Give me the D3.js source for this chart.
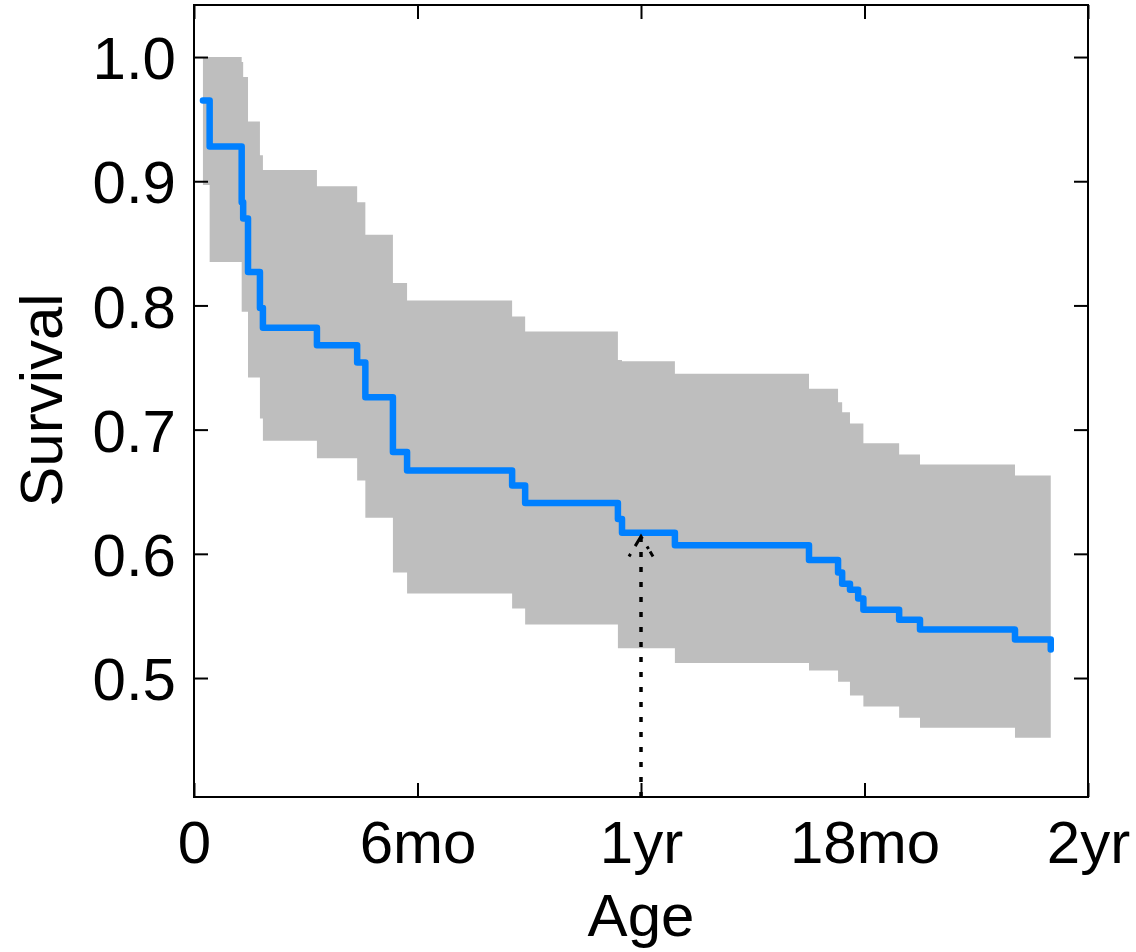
<!DOCTYPE html>
<html>
<head>
<meta charset="utf-8">
<script src="https://cdn.jsdelivr.net/npm/d3@7"></script>
<style>
  html, body { margin: 0; padding: 0; background: #fff; }
  svg { display: block; }
  text { font-family: "Liberation Sans", Arial, sans-serif; fill: #000; }
</style>
</head>
<body>
<svg id="chart" width="1136" height="952"></svg>
<script>
// ---- data (time in months) ----
const times = [0.24, 0.42, 1.28, 1.32, 1.45, 1.77, 1.85, 3.30, 4.38, 4.60, 5.34, 5.72, 8.54, 8.89, 11.38, 11.49, 12.91, 16.51, 17.29, 17.40, 17.61, 17.83, 17.97, 18.93, 19.49, 22.04];
const survival = [0.965, 0.928, 0.883, 0.870, 0.827, 0.798, 0.782, 0.768, 0.754, 0.726, 0.682, 0.667, 0.655, 0.641, 0.628, 0.617, 0.607, 0.595, 0.585, 0.576, 0.571, 0.564, 0.555, 0.547, 0.539, 0.531];
const upper = [1.000, 1.000, 0.996, 0.984, 0.948, 0.921, 0.909, 0.896, 0.883, 0.857, 0.818, 0.804, 0.791, 0.779, 0.756, 0.755, 0.745, 0.733, 0.722, 0.714, 0.705, 0.705, 0.689, 0.680, 0.672, 0.663];
const lower = [0.897, 0.835, 0.795, 0.795, 0.742, 0.709, 0.691, 0.677, 0.659, 0.629, 0.585, 0.568, 0.556, 0.543, 0.524, 0.524, 0.512, 0.506, 0.497, 0.497, 0.486, 0.486, 0.477, 0.468, 0.460, 0.452];
const endTime = 23.0;
const endSurvival = 0.523;
const arrowTime = 12;
const arrowSurvival = 0.614;

const xTicks = [0, 6, 12, 18, 24];
const xTickLabels = ["0", "6mo", "1yr", "18mo", "2yr"];
const yTicks = [0.5, 0.6, 0.7, 0.8, 0.9, 1.0];
const yTickLabels = ["0.5", "0.6", "0.7", "0.8", "0.9", "1.0"];
const xTitle = "Age";
const yTitle = "Survival";

// ---- layout ----
const L = 194, R = 1088, T = 5, B = 797;
const svg = d3.select("#chart");
const x = d3.scaleLinear().domain([0, 24]).range([L, R]);
const y = d3.scaleLinear().domain([0.4042, 1.0419]).range([B, T]);

const rows = times.map((t, i) => ({ t, s: survival[i], u: upper[i], l: lower[i] }));
const bandRows = rows.concat([{ t: endTime, u: upper[upper.length - 1], l: lower[lower.length - 1] }]);
const lineRows = rows.concat([{ t: endTime, s: survival[survival.length - 1] }, { t: endTime, s: endSurvival }]);

// confidence band
svg.append("path")
  .datum(bandRows)
  .attr("fill", "#bebebe")
  .attr("d", d3.area().curve(d3.curveStepAfter)
    .x(d => x(d.t)).y0(d => y(d.l)).y1(d => y(d.u)));

// survival line
svg.append("path")
  .datum(lineRows)
  .attr("fill", "none")
  .attr("stroke", "#0080ff")
  .attr("stroke-width", 6.5)
  .attr("stroke-linejoin", "round")
  .attr("stroke-linecap", "round")
  .attr("d", d3.line().curve(d3.curveStepAfter).x(d => x(d.t)).y(d => y(d.s)));

// dotted arrow
const ax = x(arrowTime), ay = y(arrowSurvival);
const arrow = svg.append("g")
  .attr("stroke", "#000").attr("stroke-width", 3.5)
  .attr("stroke-dasharray", "5,10").attr("fill", "none");
arrow.append("line").attr("x1", ax).attr("y1", B).attr("x2", ax).attr("y2", ay);
arrow.append("path")
  .attr("stroke-width", 3)
  .attr("stroke-dasharray", "3,9,14,9,3")
  .attr("d", `M${ax - 12},${ay + 20}L${ax},${ay}L${ax + 12},${ay + 20}`);

// frame
svg.append("rect").attr("x", L).attr("y", T).attr("width", R - L).attr("height", B - T)
  .attr("fill", "none").attr("stroke", "#000").attr("stroke-width", 2);

// axes with inward ticks
const tickLen = 14;
const gx = svg.append("g").attr("transform", `translate(0,${B})`)
  .call(d3.axisBottom(x).tickValues(xTicks).tickSizeInner(-tickLen).tickSizeOuter(0)
    .tickPadding(tickLen + 10).tickFormat((d, i) => xTickLabels[i]));
const gxTop = svg.append("g").attr("transform", `translate(0,${T})`)
  .call(d3.axisTop(x).tickValues(xTicks).tickSizeInner(-tickLen).tickSizeOuter(0).tickFormat(""));
const gy = svg.append("g").attr("transform", `translate(${L},0)`)
  .call(d3.axisLeft(y).tickValues(yTicks).tickSizeInner(-tickLen).tickSizeOuter(0)
    .tickPadding(tickLen + 18).tickFormat((d, i) => yTickLabels[i]));
const gyRight = svg.append("g").attr("transform", `translate(${R},0)`)
  .call(d3.axisRight(y).tickValues(yTicks).tickSizeInner(-tickLen).tickSizeOuter(0).tickFormat(""));

[gx, gxTop, gy, gyRight].forEach(g => {
  g.select(".domain").remove();
  g.selectAll(".tick line").attr("stroke", "#000").attr("stroke-width", 2);
  g.selectAll("text").attr("font-family", "'Liberation Sans', Arial, sans-serif").attr("font-size", 60).attr("fill", "#000");
});
gx.selectAll(".tick text").attr("dy", null).attr("y", 66);
gy.selectAll(".tick text").attr("dy", "0.36em").attr("x", -18);

// titles
svg.append("text").attr("x", (L + R) / 2).attr("y", 936)
  .attr("text-anchor", "middle").attr("font-size", 60).text(xTitle);
svg.append("text").attr("transform", `translate(62,400) rotate(-90)`)
  .attr("text-anchor", "middle").attr("font-size", 60).text(yTitle);
</script>
</body>
</html>
